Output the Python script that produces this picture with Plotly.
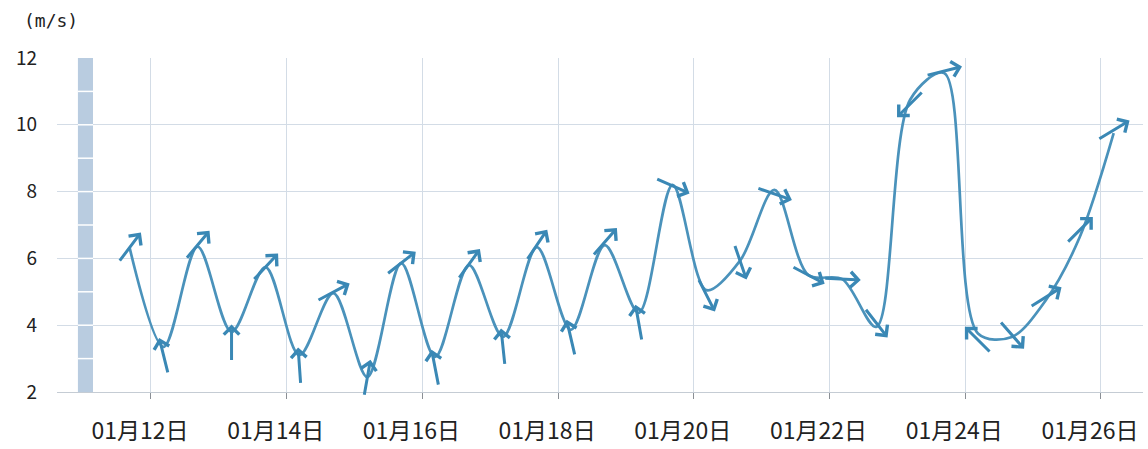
import math
import plotly.graph_objects as go

# ---- data ----
line_time = [
    "2023-01-11 16:30", "2023-01-12 04:30", "2023-01-12 16:30", "2023-01-13 04:30",
    "2023-01-13 16:30", "2023-01-14 04:30", "2023-01-14 16:30", "2023-01-15 04:30",
    "2023-01-15 16:30", "2023-01-16 04:30", "2023-01-16 16:30", "2023-01-17 04:30",
    "2023-01-17 16:30", "2023-01-18 04:30", "2023-01-18 16:30", "2023-01-19 04:30",
    "2023-01-19 16:30", "2023-01-20 04:30", "2023-01-20 16:30", "2023-01-21 04:30",
    "2023-01-21 16:30", "2023-01-22 04:30", "2023-01-22 16:30", "2023-01-23 04:30",
    "2023-01-23 16:30", "2023-01-24 04:30", "2023-01-24 16:30", "2023-01-25 04:30",
    "2023-01-25 16:30", "2023-01-26 04:30",
]
line_speed = [
    6.30, 3.35, 6.35, 3.80, 5.74, 3.10, 4.96, 2.45, 5.86, 3.05,
    5.80, 3.65, 6.34, 3.86, 6.40, 4.37, 8.20, 5.05, 5.95, 8.05,
    5.50, 5.38, 3.95, 10.75, 11.55, 3.75, 3.65, 4.75, 6.64, 9.75,
]

arrow_time = line_time
arrow_speed = [
    6.33, 3.08, 6.40, 3.47, 5.74, 2.78, 4.99, 2.42, 5.86, 2.72,
    5.83, 3.35, 6.40, 3.62, 6.49, 4.07, 8.17, 4.90, 5.89, 7.93,
    5.50, 5.38, 4.07, 10.62, 11.61, 3.56, 3.71, 4.84, 6.85, 9.84,
]
# direction the arrow points to (degrees, 0 = up, 90 = right)
arrow_dir = [
    37, 346, 40, 0, 43, 356, 62, 10, 52, 349,
    36, 354, 34, 347, 41, 350, 114, 153, 161, 109,
    118, 93, 142, 225, 76, 315, 139, 58, 45, 59,
]

tick_vals = ["2023-01-12", "2023-01-14", "2023-01-16", "2023-01-18",
             "2023-01-20", "2023-01-22", "2023-01-24", "2023-01-26"]
tick_text = ["01月12日", "01月14日", "01月16日", "01月18日",
             "01月20日", "01月22日", "01月24日", "01月26日"]
y_ticks = [2, 4, 6, 8, 10, 12]

LINE_COLOR = "#4a92bb"
ARROW_COLOR = "#3a88b5"
GRID = "#d3dce6"
ARROW_LEN = 37

fig = go.Figure()
fig.add_trace(go.Scatter(
    x=line_time, y=line_speed, mode="lines",
    line=dict(color=LINE_COLOR, width=2.7, shape="spline", smoothing=0.9),
    hoverinfo="skip", showlegend=False,
))

annotations = []
for t, v, d in zip(arrow_time, arrow_speed, arrow_dir):
    r = math.radians(d)
    sx, sy = math.sin(r), math.cos(r)
    annotations.append(dict(
        x=t, y=v, xref="x", yref="y", text="",
        showarrow=True, arrowhead=4, arrowsize=1.0, arrowwidth=3.0,
        arrowcolor=ARROW_COLOR, standoff=0,
        xshift=ARROW_LEN / 2 * sx, yshift=ARROW_LEN / 2 * sy,
        ax=-ARROW_LEN * sx, ay=ARROW_LEN * sy,
    ))

annotations.append(dict(
    text="(m/s)", xref="paper", yref="paper", x=-0.0322, y=1.111,
    xanchor="left", yanchor="middle", showarrow=False,
    font=dict(family="DejaVu Sans Mono", size=18, color="#222"),
))

shapes = [dict(
    type="rect", xref="x", yref="y", layer="between",
    x0="2023-01-10 22:10", x1="2023-01-11 03:30", y0=2, y1=12,
    fillcolor="#b9cce0", line=dict(width=0),
)]
for yy in range(3, 12):
    shapes.append(dict(
        type="line", xref="x", yref="y", layer="between",
        x0="2023-01-10 22:10", x1="2023-01-11 03:30", y0=yy, y1=yy,
        line=dict(color="white", width=1.5),
    ))

fig.update_layout(
    width=1148, height=449,
    margin=dict(l=57, r=5, t=58, b=57, autoexpand=False),
    plot_bgcolor="white", paper_bgcolor="white",
    annotations=annotations, shapes=shapes,
    xaxis=dict(
        type="date", automargin=False,
        range=["2023-01-10 14:46", "2023-01-26 14:52"],
        tickvals=tick_vals, ticktext=tick_text,
        showgrid=True, gridcolor=GRID, gridwidth=1,
        ticks="outside", ticklen=6, tickcolor="#8a8f95", tickwidth=1,
        showline=True, linecolor="#c5ccd4", linewidth=1,
        zeroline=False,
        tickfont=dict(family="Noto Sans CJK SC", size=23, color="#222"),
        ticklabelstandoff=12, ticklabelshift=-11,
    ),
    yaxis=dict(
        range=[2, 12], tickvals=y_ticks, automargin=False,
        showgrid=True, gridcolor=GRID, gridwidth=1,
        zeroline=False, showline=False,
        tickfont=dict(family="Noto Sans CJK SC", size=19, color="#222"),
        ticklabelstandoff=19,
    ),
)

fig.write_html(
    "out.html",
    config={"displayModeBar": False},
    post_script="document.body.style.margin='0';document.body.style.overflow='hidden';",
)
